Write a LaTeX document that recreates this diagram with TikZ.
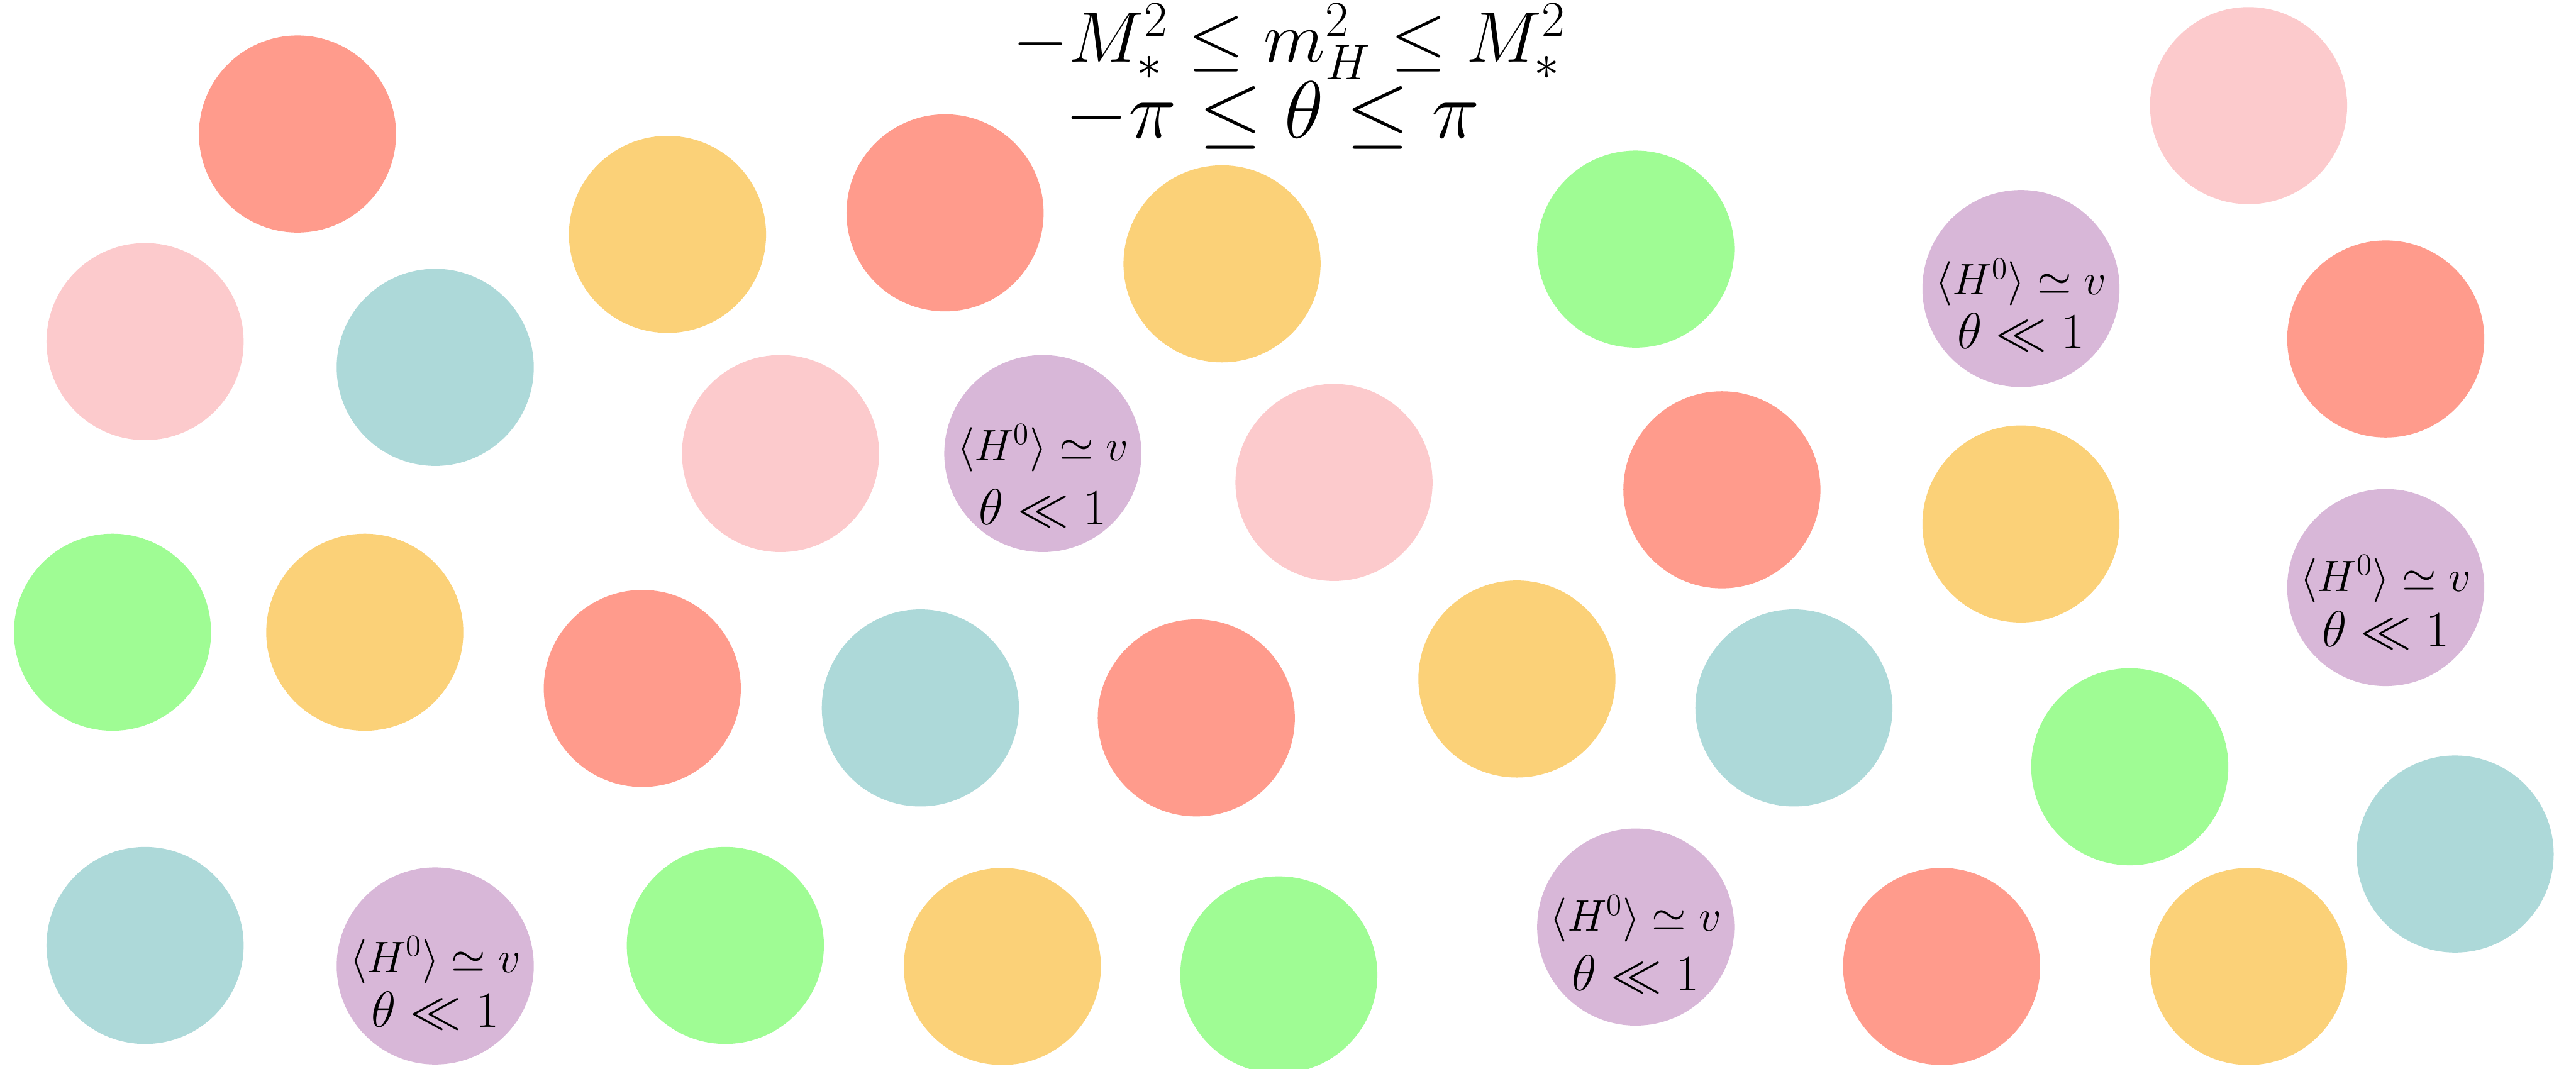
\documentclass[tikz,border=0pt]{standalone}
\usepackage{fix-cm}
\definecolor{cred}{RGB}{255,155,140}
\definecolor{cpink}{RGB}{252,202,204}
\definecolor{cteal}{RGB}{173,217,217}
\definecolor{cyellow}{RGB}{251,209,120}
\definecolor{cgreen}{RGB}{159,252,148}
\definecolor{cpurple}{RGB}{216,183,216}
\newcommand\hlineone{$\langle H^0\rangle \simeq v$}
\newcommand\hlinetwo{$\theta \ll 1$}
\begin{document}
\begin{tikzpicture}[x=1cm,y=1cm,
  ball/.style={circle, inner sep=0pt, minimum size=3.75cm, draw=none},
  redball/.style={ball, fill=cred},
  pinkball/.style={ball, fill=cpink},
  tealball/.style={ball, fill=cteal},
  yellowball/.style={ball, fill=cyellow},
  greenball/.style={ball, fill=cgreen},
  purpleball/.style={ball, fill=cpurple},
  lineone/.style={anchor=base, inner sep=0pt, font=\fontsize{23.9pt}{28pt}\selectfont},
  linetwo/.style={anchor=base, inner sep=0pt, font=\fontsize{27.6pt}{32pt}\selectfont},
  titleone/.style={anchor=base, inner sep=0pt, font=\fontsize{38.8pt}{46pt}\selectfont},
  titletwo/.style={anchor=base, inner sep=0pt, font=\fontsize{43.9pt}{52pt}\selectfont}]
\useasboundingbox (0,0) rectangle (49.01,-20.34);
% plain circles
\node[redball]    (c1)  at (5.66,-2.55) {};
\node[pinkball]   (c2)  at (2.76,-6.50) {};
\node[tealball]   (c3)  at (8.28,-6.99) {};
\node[yellowball] (c4)  at (12.70,-4.46) {};
\node[redball]    (c5)  at (17.98,-4.05) {};
\node[yellowball] (c6)  at (23.25,-5.02) {};
\node[greenball]  (c7)  at (31.12,-4.74) {};
\node[pinkball]   (c9)  at (42.78,-2.01) {};
\node[redball]    (c10) at (45.39,-6.45) {};
\node[pinkball]   (c11) at (14.85,-8.63) {};
\node[pinkball]   (c13) at (25.38,-9.18) {};
\node[redball]    (c14) at (32.76,-9.32) {};
\node[yellowball] (c15) at (38.45,-9.97) {};
\node[greenball]  (c17) at (2.14,-12.03) {};
\node[yellowball] (c18) at (6.94,-12.03) {};
\node[redball]    (c19) at (12.22,-13.10) {};
\node[tealball]   (c20) at (17.51,-13.47) {};
\node[redball]    (c21) at (22.76,-13.66) {};
\node[yellowball] (c22) at (28.86,-12.92) {};
\node[tealball]   (c23) at (34.13,-13.47) {};
\node[greenball]  (c24) at (40.52,-14.59) {};
\node[tealball]   (c25) at (46.71,-16.25) {};
\node[tealball]   (c26) at (2.76,-17.99) {};
\node[greenball]  (c28) at (13.80,-17.99) {};
\node[yellowball] (c29) at (19.07,-18.39) {};
\node[greenball]  (c30) at (24.33,-18.55) {};
\node[redball]    (c32) at (36.94,-18.39) {};
\node[yellowball] (c33) at (42.78,-18.39) {};
% purple circles with text
\node[purpleball] (p1) at (38.45,-5.49) {};
\node[lineone] (p1a) at ([yshift=-0.12cm]p1.center) {\hlineone};
\node[linetwo] (p1b) at ([yshift=-1.15cm]p1.center) {\hlinetwo};
\node[purpleball] (p2) at (19.84,-8.63) {};
\node[lineone] (p2a) at ([yshift=-0.13cm]p2.center) {\hlineone};
\node[linetwo] (p2b) at ([yshift=-1.35cm]p2.center) {\hlinetwo};
\node[purpleball] (p3) at (45.39,-11.18) {};
\node[lineone] (p3a) at ([yshift=-0.07cm]p3.center) {\hlineone};
\node[linetwo] (p3b) at ([yshift=-1.13cm]p3.center) {\hlinetwo};
\node[purpleball] (p4) at (8.28,-18.38) {};
\node[lineone] (p4a) at ([yshift=-0.12cm]p4.center) {\hlineone};
\node[linetwo] (p4b) at ([yshift=-1.16cm]p4.center) {\hlinetwo};
\node[purpleball] (p5) at (31.12,-17.64) {};
\node[lineone] (p5a) at ([yshift=-0.08cm]p5.center) {\hlineone};
\node[linetwo] (p5b) at ([yshift=-1.21cm]p5.center) {\hlinetwo};
% title
\node[titleone] (t1) at (24.53,-1.18) {$-M_*^2 \le m_H^2 \le M_*^2$};
\node[titletwo] (t2) at (24.21,-2.63) {$-\pi \le \theta \le \pi$};
\end{tikzpicture}
\end{document}
